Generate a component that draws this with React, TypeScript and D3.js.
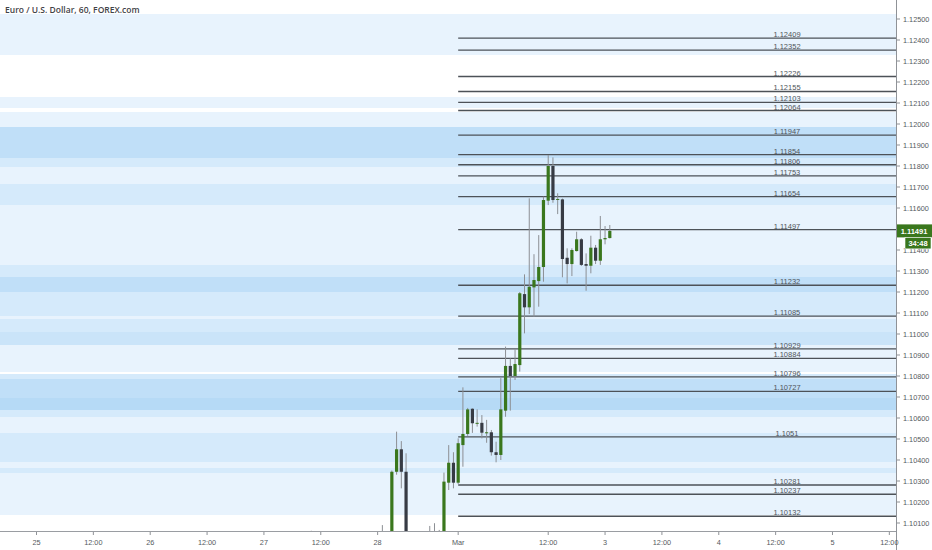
import React from "react";
import * as d3 from "d3";

const title = "Euro / U.S. Dollar, 60, FOREX.com";

// hourly bars: hour index counted from Feb 25 00:00 (trading-hour index)
const hours = [58, 73, 74, 75, 76, 77, 78, 79, 80, 81, 82, 83, 84, 85, 86, 87, 88, 89, 90, 91, 92, 93, 94, 95, 96, 97, 98, 99, 100, 101, 102, 103, 104, 105, 106, 107, 108, 109, 110, 111, 112, 113, 114, 115, 116, 117, 118, 119, 120, 121];
const opens = [1.0995, 1.0998, 1.1001, 1.0999, 1.10344, 1.10451, 1.10344, 1.0995, 1.0998, 1.0994, 1.0999, 1.0997, 1.0999, 1.1001, 1.0998, 1.10292, 1.10387, 1.10292, 1.10471, 1.10524, 1.10644, 1.10575, 1.10577, 1.1053, 1.10532, 1.10437, 1.10424, 1.10635, 1.10848, 1.108, 1.10852, 1.1119, 1.11127, 1.11222, 1.11252, 1.11319, 1.11635, 1.118, 1.1164, 1.11641, 1.11363, 1.11333, 1.11395, 1.11451, 1.11333, 1.11325, 1.11411, 1.11349, 1.11451, 1.11457];
const highs = [1.10063, 1.1009, 1.1004, 1.1035, 1.10535, 1.1049, 1.10432, 1.1002, 1.1003, 1.1001, 1.1004, 1.10086, 1.10099, 1.10067, 1.1034, 1.10471, 1.10437, 1.10503, 1.10746, 1.10648, 1.10646, 1.10641, 1.10614, 1.10591, 1.10543, 1.10487, 1.1079, 1.1094, 1.10884, 1.10927, 1.112, 1.11284, 1.11646, 1.1138, 1.11471, 1.11654, 1.11852, 1.11841, 1.1167, 1.11645, 1.11408, 1.11408, 1.11487, 1.11456, 1.11384, 1.11468, 1.11424, 1.11562, 1.11514, 1.11519];
const lows = [1.099, 1.0992, 1.0995, 1.0996, 1.1033, 1.10265, 1.099, 1.0988, 1.0991, 1.0989, 1.0993, 1.0992, 1.0995, 1.0992, 1.0994, 1.10257, 1.10265, 1.10285, 1.10368, 1.10515, 1.10529, 1.10559, 1.10503, 1.10482, 1.10421, 1.10389, 1.104, 1.10606, 1.10635, 1.10781, 1.10821, 1.11003, 1.11095, 1.11082, 1.1113, 1.11249, 1.11614, 1.11625, 1.11571, 1.1127, 1.11241, 1.11276, 1.11393, 1.11324, 1.11206, 1.11289, 1.11333, 1.11329, 1.11427, 1.11455];
const closes = [1.0998, 1.1001, 1.0999, 1.10344, 1.10451, 1.10344, 1.0995, 1.0998, 1.0994, 1.0999, 1.0997, 1.0999, 1.1001, 1.0998, 1.10297, 1.10387, 1.10292, 1.1048, 1.10524, 1.10641, 1.10575, 1.10577, 1.1053, 1.10532, 1.10437, 1.10424, 1.10641, 1.10848, 1.108, 1.10857, 1.11194, 1.11127, 1.11225, 1.11257, 1.11319, 1.11638, 1.118, 1.11638, 1.11643, 1.11357, 1.11333, 1.114, 1.11451, 1.11329, 1.11325, 1.11411, 1.11349, 1.11451, 1.11457, 1.11491];

// support / resistance levels
const levels = [1.12409, 1.12352, 1.12226, 1.12155, 1.12103, 1.12064, 1.11947, 1.11854, 1.11806, 1.11753, 1.11654, 1.11497, 1.11232, 1.11085, 1.10929, 1.10884, 1.10796, 1.10727, 1.1051, 1.10281, 1.10237, 1.10132];
const levelLabels = ["1.12409", "1.12352", "1.12226", "1.12155", "1.12103", "1.12064", "1.11947", "1.11854", "1.11806", "1.11753", "1.11654", "1.11497", "1.11232", "1.11085", "1.10929", "1.10884", "1.10796", "1.10727", "1.1051", "1.10281", "1.10237", "1.10132"];
const levelStartHour = 89;

// shaded price zones: top, bottom, intensity (0..4)
const zoneTops = [1.125238, 1.121286, 1.120571, 1.119857, 1.118381, 1.117952, 1.117143, 1.116143, 1.113286, 1.112714, 1.112, 1.110857, 1.110714, 1.110095, 1.109476, 1.108095, 1.107857, 1.106952, 1.106381, 1.106048, 1.105286, 1.103905, 1.103619, 1.103381];
const zoneBottoms = [1.123286, 1.120762, 1.119857, 1.118381, 1.117952, 1.117143, 1.116143, 1.113286, 1.112714, 1.112, 1.110857, 1.110714, 1.110095, 1.109476, 1.10819, 1.107857, 1.106952, 1.106381, 1.106048, 1.105286, 1.103905, 1.103619, 1.103381, 1.101381];
const zoneLevels = [0, 0, 0, 3, 1, 0, 1, 0, 1, 3, 1, 0, 1, 2, 0, 1, 3, 4, 1, 0, 1, 0, 1, 0];

// axis ticks (1.11500 sits under the last-price tag and is not shown)
const priceTicks = [1.101, 1.102, 1.103, 1.104, 1.105, 1.106, 1.107, 1.108, 1.109, 1.11, 1.111, 1.112, 1.113, 1.114, 1.116, 1.117, 1.118, 1.119, 1.12, 1.121, 1.122, 1.123, 1.124, 1.125];
const timeTickHours = [0, 12, 24, 36, 48, 60, 72, 89, 108, 120, 132, 144, 156, 168, 180];
const timeTickLabels = ["25", "12:00", "26", "12:00", "27", "12:00", "28", "Mar", "12:00", "3", "12:00", "4", "12:00", "5", "12:00"];

const lastPrice = 1.11491;
const lastPriceLabel = "1.11491";
const countdown = "34:48";

const W = 932;
const H = 550;
const plotRight = 896;
const plotBottom = 531;
const zoneColors = ["#e8f3fd", "#d5eafb", "#cae4f9", "#c0dff8", "#b6daf6"];
const upColor = "#3a771d";
const downColor = "#373b44";
const font = "'Liberation Sans', Arial, sans-serif";

export default function App() {
  const x = d3.scaleLinear().domain([0, 180]).range([36.5, 36.5 + 180 * 4.738]);
  const y = d3.scaleLinear().domain([1.125, 1.101]).range([19, 523]);
  const bodyW = 3.2;

  return (
    <svg
      width={W}
      height={H}
      style={{ position: "absolute", left: 0, top: 0, background: "#fff" }}
      fontFamily={font}
    >
      <defs>
        <clipPath id="plot">
          <rect x={0} y={0} width={plotRight} height={plotBottom} />
        </clipPath>
      </defs>
      <rect x={0} y={0} width={W} height={H} fill="#fff" />
      <g clipPath="url(#plot)">
        {zoneTops.map((t, k) => (
          <rect
            key={"z" + k}
            x={0}
            width={plotRight}
            y={y(t)}
            height={y(zoneBottoms[k]) - y(t)}
            fill={zoneColors[zoneLevels[k]]}
          />
        ))}
        {levels.map((lv, k) => (
          <g key={"l" + k}>
            <line
              x1={x(levelStartHour)}
              x2={plotRight}
              y1={y(lv)}
              y2={y(lv)}
              stroke="#4d5258"
              strokeWidth={1.4}
            />
            <text
              x={787}
              y={y(lv) - 1}
              textAnchor="middle"
              fontSize={7.5}
              fill="#50555b"
            >
              {levelLabels[k]}
            </text>
          </g>
        ))}
        {hours.map((h, k) => {
          const o = opens[k];
          const c = closes[k];
          const up = c >= o;
          const cx = x(h);
          const top = y(Math.max(o, c));
          const bh = Math.max(1, y(Math.min(o, c)) - top);
          return (
            <g key={"c" + k}>
              <line
                x1={cx}
                x2={cx}
                y1={y(highs[k])}
                y2={y(lows[k])}
                stroke="#8c8f94"
                strokeWidth={1}
              />
              <rect
                x={cx - bodyW / 2}
                y={top}
                width={bodyW}
                height={bh}
                fill={up ? upColor : downColor}
              />
            </g>
          );
        })}
      </g>
      <text x={5} y={13} fontSize={8.5} fill="#3f4247" fontWeight={600} fontFamily="'Open Sans', sans-serif">
        {title}
      </text>
      {/* axes */}
      <line x1={0} x2={plotRight} y1={plotBottom + 0.5} y2={plotBottom + 0.5} stroke="#9a9da2" strokeWidth={1.2} />
      <line x1={plotRight + 0.5} x2={plotRight + 0.5} y1={0} y2={H} stroke="#8f9297" strokeWidth={1} />
      {priceTicks.map((p, k) => (
        <g key={"pt" + k}>
          <line x1={plotRight + 1} x2={plotRight + 4} y1={y(p)} y2={y(p)} stroke="#8f9297" />
          <text x={903} y={y(p) + 2.7} fontSize={7.3} fill="#555a60">
            {p.toFixed(5)}
          </text>
        </g>
      ))}
      {timeTickHours.map((h, k) => (
        <g key={"tt" + k}>
          <line x1={x(h)} x2={x(h)} y1={plotBottom + 1} y2={plotBottom + 4} stroke="#8f9297" />
          <text x={x(h)} y={545} fontSize={7.3} textAnchor="middle" fill="#555a60">
            {timeTickLabels[k]}
          </text>
        </g>
      ))}
      {/* last price tag */}
      <rect x={plotRight + 1} y={y(lastPrice) - 6.5} width={W - plotRight - 1} height={13} fill={upColor} />
      <text x={914} y={y(lastPrice) + 2.7} fontSize={7.5} textAnchor="middle" fill="#fff" fontWeight="bold">
        {lastPriceLabel}
      </text>
      <rect x={905} y={y(lastPrice) + 6.5} width={26} height={11.5} fill={upColor} stroke="#fff" strokeWidth={0.6} />
      <text x={918} y={y(lastPrice) + 15} fontSize={7.5} textAnchor="middle" fill="#fff" fontWeight="bold">
        {countdown}
      </text>
    </svg>
  );
}
